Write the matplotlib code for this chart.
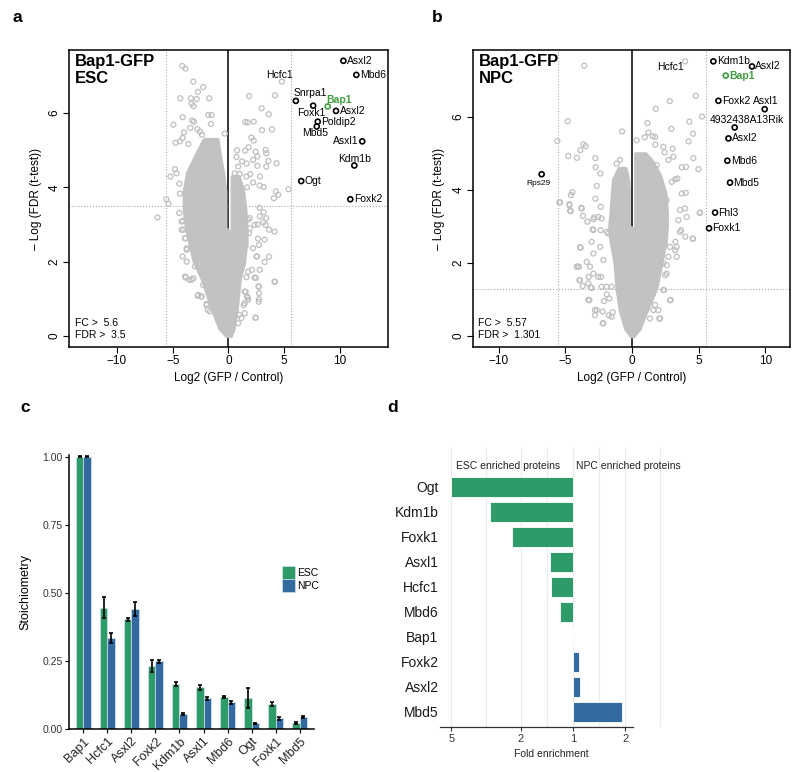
import numpy as np
import matplotlib
matplotlib.use('Agg')
import matplotlib.pyplot as plt

plt.rcParams['font.family'] = ['Liberation Sans', 'DejaVu Sans']

# =============================================================================
# DONNEES - panneau a (Bap1-GFP ESC)
# =============================================================================
esc_fc, esc_fdr = 5.6, 3.5

# points gris (hors du nuage dense)
esc_x = [-4.14, -3.87, -3.16, -2.27, -2.74, -4.32, -3.37, -2.86, -1.73, -3.31, -3.13,
         -4.11, -1.82, -1.52, -3.25, -3.10, -4.94, -1.58, -3.43, -2.80, -2.56, -3.99,
         -4.11, -4.35, -0.33, -2.38, -3.60, -2.27, -4.75, -5.57, -5.39, -6.37, -5.21,
         -4.80, -4.65, -4.41, -4.35, -4.08, -3.87, -3.90, -3.52, -3.16, -2.77, -2.47,
         -1.97, -1.85, -4.11, -4.20, -3.75,
         -4.41, -4.20, -4.05, -3.90, -3.75, -3.75, -3.84, -3.30, -3.00, -2.71, -2.41,
         -2.27, -1.97, -1.67,
         1.84, 4.16, 4.79, 2.97, 3.60, 1.51, 1.72, 2.26, 3.90, 3.00, 2.05, 2.26, 1.81,
         3.33, 3.39, 0.77, 1.48, 2.44, 2.59, 1.63, 2.59, 2.20, 3.57, 4.31, 3.39, 0.71,
         1.22, 0.86, 1.01, 1.96, 1.60, 2.82, 3.15, 4.25, 4.46, 4.07, 5.38, 1.66, 2.79,
         2.20, 0.56, 1.01,
         2.79, 3.15, 3.39, 3.12, 2.62, 3.63, 4.13, 1.84, 2.65, 2.20, 2.56, 3.63, 3.24,
         2.11, 1.60, 2.44, 4.16, 2.68, 2.74, 1.54, 1.72, 2.71, 2.41, 0.95, 1.46, 1.07,
         1.31, 1.90,
         1.75, 1.90, 2.35, 2.80, 3.33, 2.73, 3.24, 2.50, 1.75, 2.35, 2.80, 1.46, 1.66,
         1.75, 1.37, 1.46, 1.16, 2.44, 0.86, 2.73, 2.73, 4.13]
esc_y = [7.27, 7.20, 6.85, 6.70, 6.57, 6.40, 6.40, 6.38, 6.40, 6.25, 6.19,
         5.89, 5.95, 5.95, 5.80, 5.77, 5.69, 5.71, 5.60, 5.57, 5.50, 5.48,
         5.33, 5.24, 5.45, 5.42, 5.17, 5.12, 5.20, 3.68, 3.56, 3.19, 4.29,
         4.49, 4.38, 4.10, 3.83, 3.10, 2.63, 1.60, 1.51, 1.55, 1.08, 1.06,
         0.86, 0.70, 2.14, 2.86, 2.32,
         3.31, 3.08, 2.86, 2.63, 2.36, 2.00, 1.57, 1.51, 1.87, 1.10, 1.06,
         1.37, 0.83, 0.66,
         6.46, 6.48, 6.85, 6.13, 5.97, 5.76, 5.75, 5.77, 5.56, 5.54, 5.34, 5.26, 5.08,
         5.01, 4.92, 5.00, 4.99, 4.96, 4.83, 4.64, 4.58, 4.74, 4.71, 4.65, 4.56, 4.82,
         4.70, 4.56, 4.36, 4.36, 4.29, 4.29, 4.01, 3.89, 3.80, 3.71, 3.95, 4.00, 4.05,
         4.13, 4.38, 4.10,
         3.45, 3.33, 3.17, 3.06, 3.00, 2.86, 2.81, 2.77, 2.62, 2.36, 2.14, 2.13, 1.99,
         1.78, 1.58, 1.56, 1.46, 1.33, 1.15, 1.19, 1.03, 0.92, 0.49, 0.57, 0.88, 3.22,
         3.13, 3.17,
         3.13, 2.90, 2.99, 3.22, 2.99, 2.45, 2.59, 2.14, 1.73, 1.57, 1.78, 1.19, 1.06,
         0.97, 0.83, 0.61, 0.48, 0.49, 0.34, 1.33, 0.99, 1.46]

# contour du nuage dense (bande principale + lobe droit)
esc_band_y = [0.0, 0.2, 0.65, 1.1, 1.55, 2.0, 2.5, 2.9, 3.4, 3.9, 4.4, 4.9, 5.3]
esc_band_lo = [-0.2, -0.8, -1.4, -1.9, -2.4, -3.1, -3.5, -3.8, -4.0, -4.0, -3.7, -2.9, -2.2]
esc_band_hi = [0.2, 0.45, 0.7, 0.85, 1.0, 1.4, 1.55, -0.3, -0.3, -0.3, -0.5, -0.8, -1.0]
esc_lobe_y = [2.4, 2.9, 3.4, 3.9, 4.3]
esc_lobe_lo = [0.3, 0.3, 0.3, 0.3, 0.3]
esc_lobe_hi = [1.6, 1.6, 1.5, 1.3, 0.9]

# proteines marquees
esc_hits = ['Asxl2', 'Mbd6', 'Snrpa1', 'Bap1', 'Foxk1', 'Asxl2', 'Poldip2', 'Mbd5',
            'Asxl1', 'Kdm1b', 'Ogt', 'Foxk2']
esc_hit_x = [10.30, 11.46, 6.04, 8.90, 7.59, 9.64, 8.00, 7.91, 11.99, 11.28, 6.52, 10.92]
esc_hit_y = [7.41, 7.03, 6.33, 6.18, 6.20, 6.06, 5.77, 5.64, 5.24, 4.59, 4.17, 3.68]

# =============================================================================
# DONNEES - panneau b (Bap1-GFP NPC)
# =============================================================================
npc_fc, npc_fdr = 5.57, 1.301

npc_x = [-3.58, -4.83, -5.60, -3.65, -3.48, -3.88, -4.78, -4.13, -2.75, -2.73, -2.38,
         -2.65, -0.75, -5.40, -4.48, -4.58, -4.70, -4.65, -3.80, -2.75, -2.35, -2.83,
         -3.35, -2.95, -3.68, -3.90, -4.15, -3.98, -3.95, -3.25, -2.90, -2.33, -3.70,
         -3.10, -3.28, -2.65, -2.78, -2.20, -1.73, -2.10, -1.70, -1.90, -2.15, -2.40,
         -1.78, -1.40, -1.28, -0.90, -0.65, -1.15,
         -5.45, -4.70, -4.60, -3.78, -2.90, -2.53, -2.28, -2.90, -2.35, -1.90, -3.03,
         -3.85, -2.90, -4.10, -3.40, -3.15, -2.53, -3.90, -3.28, -3.03, -2.28, -1.90,
         -1.53, -3.20, -2.78, -2.20, -2.15, -1.53, -1.45,
         3.98, 4.78, 2.83, 1.78, 5.25, 4.30, 2.95, 1.15, 4.58, 4.25, 1.75, 0.95, 0.35,
         1.23, 1.55, 1.73, 3.05, 2.45, 3.73, 4.05, 4.98, 4.60, 2.73, 3.40, 3.23, 2.98,
         4.03, 3.73, 5.08, 4.58, 4.00, 3.68, 2.85, 3.23, 2.90, 2.05, 1.60, 2.35, 2.60,
         3.25, 0.85, 2.35, 3.10, 1.85, 4.10, 1.85, 2.60, 3.60, 3.35, 2.35,
         5.10, 4.55, 3.98, 3.60, 3.35, 2.73, 2.60, 2.48, 2.40, 2.85, 1.73, 1.98, 2.10,
         1.35, 3.48]
npc_y = [7.40, 5.88, 5.34, 5.25, 5.20, 5.09, 4.93, 4.88, 4.87, 4.62, 4.45,
         4.11, 5.60, 3.66, 3.94, 3.86, 3.61, 3.43, 3.51, 3.76, 3.54, 3.25,
         3.13, 2.92, 3.29, 2.43, 1.90, 1.90, 1.53, 1.62, 1.71, 1.62, 1.37,
         1.33, 0.99, 0.71, 0.57, 0.35, 0.57, 0.96, 1.03, 1.35, 2.08, 2.44,
         2.81, 3.26, 4.09, 4.82, 4.36, 4.72,
         3.66, 3.58, 3.42, 3.49, 3.20, 3.26, 3.22, 2.90, 2.90, 2.85, 2.58,
         2.42, 2.26, 1.90, 2.03, 1.90, 1.62, 1.53, 1.44, 1.32, 1.35, 1.14,
         1.35, 0.98, 0.71, 0.67, 0.35, 0.53, 0.65,
         7.52, 6.58, 6.43, 6.22, 6.01, 5.87, 5.67, 5.83, 5.54, 5.33, 5.24, 5.44, 5.36,
         5.57, 5.47, 5.45, 5.13, 5.03, 4.62, 4.63, 4.57, 4.87, 4.82, 4.31, 4.29, 4.22,
         3.92, 3.90, 3.37, 2.66, 2.72, 2.90, 2.44, 2.35, 0.99, 0.48, 0.71, 1.26, 1.71,
         2.58, 4.91, 5.18, 4.91, 4.68, 3.26, 3.54, 3.72, 3.45, 2.17, 1.99,
         3.38, 2.67, 3.49, 2.85, 2.44, 2.17, 1.94, 1.67, 1.26, 0.98, 0.85, 0.71, 0.48,
         0.48, 3.17]

npc_band_y = [0.0, 0.2, 0.7, 1.3, 2.0, 2.6, 3.0, 3.4, 3.9, 4.3, 4.6]
npc_band_lo = [-0.1, -0.5, -0.9, -1.15, -1.3, -1.6, -1.7, -1.6, -1.5, -1.4, -1.0]
npc_band_hi = [0.1, 0.55, 1.1, 1.8, 2.2, 2.5, -0.25, -0.25, -0.25, -0.3, -0.5]
npc_lobe_y = [2.5, 3.0, 3.4, 3.9, 4.4, 4.8, 5.0]
npc_lobe_lo = [0.25, 0.25, 0.25, 0.25, 0.25, 0.25, 0.25]
npc_lobe_hi = [2.5, 2.6, 2.6, 2.5, 2.1, 1.5, 1.0]

npc_hits = ['Kdm1b', 'Asxl2', 'Bap1', 'Foxk2', 'Asxl1', '4932438A13Rik', 'Asxl2',
            'Mbd6', 'Mbd5', 'Fhl3', 'Foxk1', 'Rps29']
npc_hit_x = [6.10, 9.00, 7.03, 6.48, 9.95, 7.70, 7.23, 7.15, 7.35, 6.23, 5.78, -6.78]
npc_hit_y = [7.52, 7.38, 7.13, 6.44, 6.21, 5.71, 5.41, 4.80, 4.20, 3.38, 2.95, 4.43]

# =============================================================================
# DONNEES - panneau c (stoechiometrie)
# =============================================================================
stoich_genes = ['Bap1', 'Hcfc1', 'Asxl2', 'Foxk2', 'Kdm1b', 'Asxl1', 'Mbd6', 'Ogt', 'Foxk1', 'Mbd5']
esc_mean = [1.00, 0.443, 0.403, 0.230, 0.165, 0.153, 0.117, 0.114, 0.091, 0.022]
esc_low = [0.998, 0.406, 0.398, 0.209, 0.158, 0.144, 0.112, 0.076, 0.084, 0.020]
esc_high = [1.002, 0.483, 0.408, 0.252, 0.172, 0.162, 0.122, 0.149, 0.098, 0.024]
npc_mean = [1.00, 0.333, 0.441, 0.248, 0.055, 0.113, 0.098, 0.021, 0.039, 0.043]
npc_low = [0.998, 0.315, 0.416, 0.243, 0.052, 0.107, 0.092, 0.019, 0.034, 0.040]
npc_high = [1.002, 0.351, 0.465, 0.253, 0.058, 0.119, 0.104, 0.023, 0.044, 0.046]

# =============================================================================
# DONNEES - panneau d (enrichissement)
# =============================================================================
enrich_genes = ['Ogt', 'Kdm1b', 'Foxk1', 'Asxl1', 'Hcfc1', 'Mbd6', 'Bap1', 'Foxk2', 'Asxl2', 'Mbd5']
enrich_fold = [5.0, 3.0, 2.23, 1.36, 1.33, 1.18, 1.0, 1.08, 1.10, 1.91]
enrich_side = ['ESC', 'ESC', 'ESC', 'ESC', 'ESC', 'ESC', 'ESC', 'NPC', 'NPC', 'NPC']

# =============================================================================
# STYLE
# =============================================================================
GRIS = '#bfbfbf'
VERT = '#2e9b69'
BLEU = '#336a9f'
VERT_BAP1 = '#3f9f3f'

fig = plt.figure(figsize=(8, 7.72), dpi=100)


def volcano(ax, xs, ys, band, lobe, hits, hx, hy, label_pos, fc, fdr, titre, xlim, ylim):
    ax.axvline(0, color='black', lw=1.1, zorder=1)
    ax.axvline(-fc, color='#aaaaaa', lw=0.8, ls=':', zorder=1)
    ax.axvline(fc, color='#aaaaaa', lw=0.8, ls=':', zorder=1)
    ax.axhline(fdr, color='#aaaaaa', lw=0.8, ls=':', zorder=1)

    # nuage dense
    for by, blo, bhi in (band, lobe):
        ax.fill_betweenx(by, blo, bhi, color='#c2c2c2', lw=2.5, edgecolor='#c2c2c2', zorder=2)
    ax.scatter(xs, ys, s=13, facecolors='none', edgecolors=GRIS, linewidths=0.9, zorder=3)

    for name, x, y, pos in zip(hits, hx, hy, label_pos):
        col = VERT_BAP1 if name == 'Bap1' else 'black'
        ax.scatter([x], [y], s=13, facecolors='none', edgecolors=col, linewidths=1.2, zorder=4)
        ha, dx, dy, fs = pos
        ax.annotate(name, (x, y), xytext=(dx, dy), textcoords='offset points',
                    ha=ha, va='center', fontsize=fs, color=col,
                    fontweight='bold' if name == 'Bap1' else 'normal', zorder=5)

    ax.text(0.018, 0.985, titre, transform=ax.transAxes, ha='left', va='top',
            fontsize=12, fontweight='bold', linespacing=1.1)
    ax.text(0.018, 0.022, f'FC >  {fc}\nFDR >  {fdr}', transform=ax.transAxes,
            ha='left', va='bottom', fontsize=7.5, linespacing=1.25)

    ax.set_xlim(*xlim)
    ax.set_ylim(*ylim)
    ax.set_xticks([-10, -5, 0, 5, 10])
    ax.set_yticks([0, 2, 4, 6])
    ax.tick_params(direction='out', length=4, width=0.8, labelsize=8.5, pad=2)
    for lbl in ax.get_yticklabels():
        lbl.set_rotation(90)
        lbl.set_va('center')
    for sp in ax.spines.values():
        sp.set_linewidth(1.1)
    ax.set_xlabel('Log2 (GFP / Control)', fontsize=8.5, labelpad=3)
    ax.set_ylabel('\u2013 Log (FDR (t-test))', fontsize=8.5, labelpad=5)


# --- panneau a
ax_a = fig.add_axes([0.08625, 0.5505, 0.39875, 0.3847])
esc_labels = [('left', 2.5, 0, 7.5), ('left', 2.5, 0, 7.5), ('left', -2, 5.5, 7.5),
              ('left', -1, 5, 7.5), ('center', -1, -5, 7.5), ('left', 2.5, 0, 7.5),
              ('left', 2.5, 0, 7.5), ('center', -1, -4.5, 7.5), ('right', -2.5, 0, 7.5),
              ('center', 0, 4.8, 7.5), ('left', 2.5, 0, 7.5), ('left', 2.5, 0, 7.5)]
volcano(ax_a, esc_x, esc_y, (esc_band_y, esc_band_lo, esc_band_hi),
        (esc_lobe_y, esc_lobe_lo, esc_lobe_hi), esc_hits, esc_hit_x, esc_hit_y,
        esc_labels, esc_fc, esc_fdr, 'Bap1-GFP\nESC', (-14.3, 14.3), (-0.3, 7.7))
ax_a.annotate('Hcfc1', (4.79, 6.85), xytext=(-1.5, 5), textcoords='offset points',
              ha='center', va='center', fontsize=7.5)

# --- panneau b
ax_b = fig.add_axes([0.5909, 0.5505, 0.3966, 0.3847])
npc_labels = [('left', 2.5, 0, 7.5), ('left', 2.5, 0, 7.5), ('left', 2.5, 0, 7.5),
              ('left', 2.5, 0, 7.5), ('center', 1, 6, 7.5), ('center', 8.5, 5.3, 7.5),
              ('left', 2.5, 0, 7.5), ('left', 2.5, 0, 7.5), ('left', 2.5, 0, 7.5),
              ('left', 2.5, 0, 7.5), ('left', 2.5, 0, 7.5), ('center', -2, -7, 6)]
volcano(ax_b, npc_x, npc_y, (npc_band_y, npc_band_lo, npc_band_hi),
        (npc_lobe_y, npc_lobe_lo, npc_lobe_hi), npc_hits, npc_hit_x, npc_hit_y,
        npc_labels, npc_fc, npc_fdr, 'Bap1-GFP\nNPC', (-11.95, 11.85), (-0.3, 7.83))
ax_b.annotate('Hcfc1', (3.98, 7.52), xytext=(-1, -4.3), textcoords='offset points',
              ha='right', va='center', fontsize=7.5)

# --- panneau c
ax_c = fig.add_axes([0.08625, 0.0557, 0.30625, 0.3549])
x = np.arange(len(stoich_genes))
w = 0.3
esc_err = [np.array(esc_mean) - np.array(esc_low), np.array(esc_high) - np.array(esc_mean)]
npc_err = [np.array(npc_mean) - np.array(npc_low), np.array(npc_high) - np.array(npc_mean)]
err_style = dict(ecolor='black', elinewidth=1.2, capsize=1.2, capthick=1.2)
ax_c.bar(x - w / 2, esc_mean, w, yerr=esc_err, color=VERT, edgecolor='#cfe3ea',
         linewidth=0.5, error_kw=err_style, label='ESC')
ax_c.bar(x + w / 2, npc_mean, w, yerr=npc_err, color=BLEU, edgecolor='#cfe3ea',
         linewidth=0.5, error_kw=err_style, label='NPC')
ax_c.set_xlim(-0.6, len(stoich_genes) - 0.4)
ax_c.set_ylim(0, 1.006)
ax_c.set_yticks([0, 0.25, 0.5, 0.75, 1.0])
ax_c.set_yticklabels(['0.00', '0.25', '0.50', '0.75', '1.00'])
ax_c.set_xticks(x)
ax_c.set_xticklabels(stoich_genes, rotation=45, ha='right', rotation_mode='anchor')
ax_c.tick_params(axis='y', direction='out', length=3, width=0.8, labelsize=7.5, pad=1.5,
                 labelcolor='#333333')
ax_c.tick_params(axis='x', direction='out', length=3, width=0.8, labelsize=9, pad=1.5,
                 labelcolor='#222222')
for sp in ['top', 'right']:
    ax_c.spines[sp].set_visible(False)
for sp in ['left', 'bottom']:
    ax_c.spines[sp].set_linewidth(1.1)
ax_c.set_ylabel('Stoichiometry', fontsize=9, labelpad=8)
ax_c.legend(loc='upper left', bbox_to_anchor=(0.87, 0.595), frameon=False, fontsize=7.5,
            handlelength=1.25, handleheight=1.5, handletextpad=0.15, labelspacing=0.05,
            borderpad=0, borderaxespad=0)

# --- panneau d
ax_d = fig.add_axes([0.55, 0.0583, 0.2773, 0.3627])
rows = np.arange(len(enrich_genes))
signe = np.array([-1 if s == 'ESC' else 1 for s in enrich_side])
pos_log = signe * np.log2(enrich_fold)
couleurs = [VERT if s == 'ESC' else BLEU for s in enrich_side]
ax_d.barh(rows, pos_log, height=0.8, color=couleurs, edgecolor='white', linewidth=0.6,
          zorder=2)
ax_d.set_ylim(len(enrich_genes) - 0.4, -1.6)
ax_d.set_xlim(-2.54, 1.70)
ax_d.set_yticks(rows)
ax_d.set_yticklabels(enrich_genes)
ax_d.set_xticks([-np.log2(5), -1, 0, 1])
ax_d.set_xticklabels(['5', '2', '1', '2'])
ax_d.set_xticks([-(np.log2(5) + 1) / 2, -0.5, 0.5, (np.log2(5) + 1) / 2], minor=True)
ax_d.grid(True, axis='x', which='both', color='#ebebeb', lw=0.8, zorder=0)
ax_d.set_axisbelow(True)
ax_d.tick_params(axis='y', length=0, labelsize=10, pad=1, labelcolor='#1a1a1a')
ax_d.tick_params(axis='x', which='major', direction='out', length=3, width=0.8,
                 labelsize=8, pad=2, color='#333333', labelcolor='#333333')
ax_d.tick_params(axis='x', which='minor', length=0)
for sp in ['top', 'right', 'left']:
    ax_d.spines[sp].set_visible(False)
ax_d.spines['bottom'].set_bounds(-2.54, 1.147)
ax_d.spines['bottom'].set_color('#333333')
ax_d.spines['bottom'].set_linewidth(0.9)
ax_d.set_xlabel('Fold enrichment', fontsize=7.5, labelpad=4, color='#222222')
ax_d.text(-1.23, -0.84, 'ESC enriched proteins', ha='center', va='center', fontsize=7.5,
          color='#222222')
ax_d.text(1.065, -0.84, 'NPC enriched proteins', ha='center', va='center', fontsize=7.5,
          color='#222222')

# lettres des panneaux
for lettre, px, py in [('a', 17, 18), ('b', 437, 17), ('c', 25, 407), ('d', 393, 407)]:
    fig.text(px / 800, 1 - py / 772, lettre, ha='center', va='center', fontsize=12.5,
             fontweight='bold')

fig.savefig('out.png', dpi=100)
